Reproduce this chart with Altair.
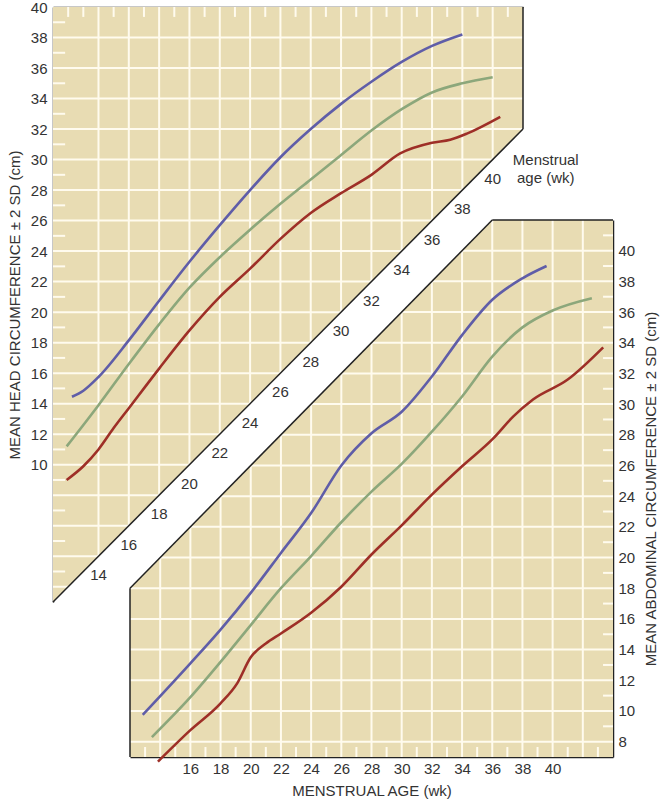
import altair as alt
import pandas as pd

# ---------------- data ----------------
# Upper panel: head circumference (week, cm)
hc_blue_w = [12.25, 13, 14, 16, 18, 20, 22, 24, 26, 28, 30, 32, 34, 36, 38]
hc_blue_c = [14.45, 14.85, 15.75, 18.15, 20.75, 23.3, 25.7, 28.0, 30.15, 32.0, 33.65, 35.1, 36.4, 37.45, 38.2]
hc_green_w = [11.9, 14, 16, 18, 20, 22, 24, 26, 28, 30, 32, 34, 36, 38, 40]
hc_green_c = [11.2, 13.9, 16.6, 19.2, 21.6, 23.6, 25.4, 27.1, 28.7, 30.3, 31.9, 33.3, 34.4, 35.0, 35.4]
hc_red_w = [11.9, 13, 14, 15, 16, 18, 20, 22, 24, 26, 28, 30, 32, 33.9, 36, 37.2, 38.3, 40.5]
hc_red_c = [9.0, 9.9, 11.0, 12.4, 13.7, 16.3, 18.8, 21.0, 22.85, 24.8, 26.5, 27.8, 29.0, 30.4, 31.1, 31.3, 31.7, 32.8]

# Lower panel: abdominal circumference (week, cm)
ac_blue_w = [12.85, 16, 18, 20, 22, 24, 26, 28, 30, 32, 34, 36, 38, 39.6]
ac_blue_c = [9.75, 13.1, 15.3, 17.7, 20.3, 22.9, 26.0, 28.1, 29.5, 31.8, 34.5, 36.8, 38.2, 39.0]
ac_green_w = [13.45, 16, 18, 20, 22, 24, 26, 28, 30, 32, 34, 36, 38, 40, 42.6]
ac_green_c = [8.3, 10.9, 13.2, 15.6, 18.0, 20.1, 22.3, 24.3, 26.1, 28.2, 30.5, 33.1, 35.0, 36.1, 36.9]
ac_red_w = [13.85, 16, 18, 19.1, 20, 21, 22, 24, 26, 28, 30, 32, 34, 36, 37.4, 38.7, 41, 43.35]
ac_red_c = [6.7, 8.75, 10.5, 11.8, 13.5, 14.4, 15.05, 16.4, 18.1, 20.2, 22.1, 24.1, 25.95, 27.7, 29.2, 30.3, 31.6, 33.7]

strip_weeks = list(range(14, 41, 2))
upper_y_labels = list(range(10, 41, 2))
lower_y_labels = list(range(8, 41, 2))
lower_x_labels = list(range(16, 41, 2))

# panel extents (data units)
U_W = [11, 42]
U_C = [1, 40]
L_W = [12, 44]
L_C = [7, 42]

BG = "#E8DCB3"
GRID = "#FFFBEE"
INK = "#222222"
TXT = "#333333"
FONT = "Liberation Sans"
COLORS = {"+2 SD": "#5F5DA8", "mean": "#8CA77B", "-2 SD": "#9E2F27"}

# ---------------- scales / axes ----------------
UX = alt.Scale(domain=U_W, range=[0, 470], nice=False, zero=False)
UY = alt.Scale(domain=U_C, range=[595, 0], nice=False, zero=False)
LX = alt.Scale(domain=L_W, range=[77, 560], nice=False, zero=False)
LY = alt.Scale(domain=L_C, range=[750, 213], nice=False, zero=False)

UXA = alt.Axis(orient="top", labels=False, ticks=False, grid=False,
               domainColor=INK, domainWidth=1.5, title=None)
UYA = alt.Axis(orient="left", values=upper_y_labels, ticks=False, grid=False,
               domainColor=INK, domainWidth=1.5, labelFont=FONT, labelFontSize=15,
               labelColor=TXT, labelPadding=6,
               title="MEAN HEAD CIRCUMFERENCE \u00b1 2 SD (cm)", titleFont=FONT,
               titleFontSize=15, titleFontWeight="normal", titleColor=TXT, titlePadding=8)
LXA = alt.Axis(orient="bottom", values=lower_x_labels, ticks=False, grid=False,
               domainColor=INK, domainWidth=1.5, labelFont=FONT, labelFontSize=15,
               labelColor=TXT, labelPadding=4, labelFlush=False,
               title="MENSTRUAL AGE (wk)", titleFont=FONT, titleFontSize=15,
               titleFontWeight="normal", titleColor=TXT, titlePadding=7)
LYA = alt.Axis(orient="right", values=lower_y_labels, ticks=False, grid=False,
               domainColor=INK, domainWidth=1.5, labelFont=FONT, labelFontSize=15,
               labelColor=TXT, labelPadding=5,
               title="MEAN ABDOMINAL CIRCUMFERENCE \u00b1 2 SD (cm)", titleFont=FONT,
               titleFontSize=15, titleFontWeight="normal", titleColor=TXT,
               titlePadding=9, titleAngle=270, titleBaseline="top")


def enc(xs, ys, xa, ya, two=False):
    e = dict(x=alt.X("w:Q", scale=xs, axis=xa), y=alt.Y("c:Q", scale=ys, axis=ya))
    if two:
        e["x2"] = alt.X2("w2:Q")
        e["y2"] = alt.Y2("c2:Q")
    return e


def curves(ws_list):
    rows = []
    for name, ws, cs in ws_list:
        for w, c in zip(ws, cs):
            rows.append({"s": name, "w": w, "c": c})
    return pd.DataFrame(rows)


color = alt.Color("s:N", scale=alt.Scale(domain=list(COLORS.keys()),
                                          range=list(COLORS.values())), legend=None)

# ---------------- upper panel ----------------
u_bg = pd.DataFrame({"w": [U_W[0], U_W[1]],
                     "c": [U_W[0] - 10, U_W[1] - 10],
                     "c2": [U_C[1], U_C[1]]})
u_grid = pd.DataFrame(
    [{"w": w, "w2": w, "c": w - 10, "c2": U_C[1]} for w in range(14, 41, 2)] +
    [{"w": U_W[0], "w2": min(U_W[1], c + 10), "c": c, "c2": c} for c in range(2, 39, 2)])
u_ticks = pd.DataFrame(
    [{"w": U_W[0], "w2": U_W[0] + 0.8, "c": c, "c2": c} for c in range(3, 40, 2)] +
    [{"w": w, "w2": w, "c": U_C[1], "c2": U_C[1] - 0.65} for w in [12] + list(range(13, 42, 2))])
u_outline = pd.DataFrame([
    {"w": U_W[1], "w2": U_W[1], "c": U_W[1] - 10, "c2": U_C[1]},
    {"w": U_W[0], "w2": U_W[1], "c": U_W[0] - 10, "c2": U_W[1] - 10},
])
u_curves = curves([("+2 SD", hc_blue_w, hc_blue_c),
                   ("mean", hc_green_w, hc_green_c),
                   ("-2 SD", hc_red_w, hc_red_c)])
u_labels = pd.DataFrame({"w": strip_weeks, "c": [w - 10 for w in strip_weeks],
                         "t": [str(w) for w in strip_weeks]})
u_caption = pd.DataFrame({"w": [43.5], "c": [29.95], "t": ["Menstrual\nage (wk)"]})

upper = alt.layer(
    alt.Chart(u_bg).mark_area(color=BG, opacity=1).encode(
        x=alt.X("w:Q", scale=UX, axis=UXA), y=alt.Y("c:Q", scale=UY, axis=UYA), y2="c2:Q"),
    alt.Chart(u_grid).mark_rule(color=GRID, strokeWidth=2).encode(**enc(UX, UY, UXA, UYA, True)),
    alt.Chart(u_ticks).mark_rule(color=GRID, strokeWidth=2).encode(**enc(UX, UY, UXA, UYA, True)),
    alt.Chart(u_curves).mark_line(interpolate="monotone", strokeWidth=2.6).encode(
        color=color, detail="s:N", order="w:Q", **enc(UX, UY, UXA, UYA)),
    alt.Chart(u_outline).mark_rule(color=INK, strokeWidth=1.5).encode(**enc(UX, UY, UXA, UYA, True)),
    alt.Chart(u_labels).mark_text(font=FONT, fontSize=15, color=TXT, dy=19).encode(
        text="t:N", **enc(UX, UY, UXA, UYA)),
    alt.Chart(u_caption).mark_text(font=FONT, fontSize=15, color=TXT, lineBreak="\n",
                                   lineHeight=18, align="center").encode(
        text="t:N", **enc(UX, UY, UXA, UYA)),
)

# ---------------- lower panel ----------------
l_bg = pd.DataFrame({"w": [L_W[0], 36, L_W[1]],
                     "c": [L_C[0]] * 3,
                     "c2": [L_W[0] + 6, L_C[1], L_C[1]]})
l_grid = pd.DataFrame(
    [{"w": w, "w2": w, "c": L_C[0], "c2": min(L_C[1], w + 6)} for w in range(14, 43, 2)] +
    [{"w": max(L_W[0], c - 6), "w2": L_W[1], "c": c, "c2": c} for c in range(8, 41, 2)])
l_ticks = pd.DataFrame(
    [{"w": L_W[1] - 0.66, "w2": L_W[1], "c": c, "c2": c} for c in range(9, 42, 2)] +
    [{"w": w, "w2": w, "c": L_C[0], "c2": L_C[0] + 0.65} for w in range(13, 44, 2)])
l_outline = pd.DataFrame([
    {"w": L_W[0], "w2": L_W[0], "c": L_C[0], "c2": L_W[0] + 6},
    {"w": L_W[0], "w2": 36, "c": L_W[0] + 6, "c2": L_C[1]},
    {"w": 36, "w2": L_W[1], "c": L_C[1], "c2": L_C[1]},
])
l_curves = curves([("+2 SD", ac_blue_w, ac_blue_c),
                   ("mean", ac_green_w, ac_green_c),
                   ("-2 SD", ac_red_w, ac_red_c)])

lower = alt.layer(
    alt.Chart(l_bg).mark_area(color=BG, opacity=1).encode(
        x=alt.X("w:Q", scale=LX, axis=LXA), y=alt.Y("c:Q", scale=LY, axis=LYA), y2="c2:Q"),
    alt.Chart(l_grid).mark_rule(color=GRID, strokeWidth=2).encode(**enc(LX, LY, LXA, LYA, True)),
    alt.Chart(l_ticks).mark_rule(color=GRID, strokeWidth=2).encode(**enc(LX, LY, LXA, LYA, True)),
    alt.Chart(l_curves).mark_line(interpolate="monotone", strokeWidth=2.6).encode(
        color=color, detail="s:N", order="w:Q", **enc(LX, LY, LXA, LYA)),
    alt.Chart(l_outline).mark_rule(color=INK, strokeWidth=1.5).encode(**enc(LX, LY, LXA, LYA, True)),
)

chart = alt.layer(upper, lower).resolve_scale(
    x="independent", y="independent"
).resolve_axis(
    x="independent", y="independent"
).properties(
    width=560, height=750,
    padding={"left": 53, "top": 7, "right": 53, "bottom": 43},
    autosize=alt.AutoSizeParams(type="none"),
    background="white",
).configure_view(stroke=None)

chart.save("out.html", embed_options={"renderer": "svg", "actions": False})
